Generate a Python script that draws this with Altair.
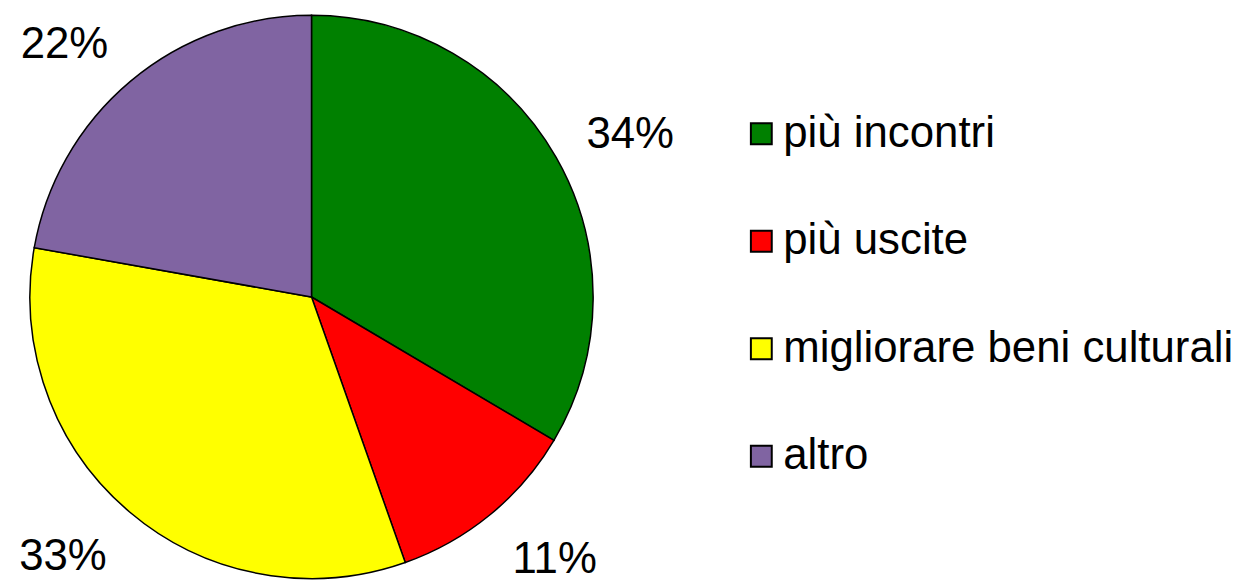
import math
import altair as alt
import pandas as pd

categories = ["più incontri", "più uscite", "migliorare beni culturali", "altro"]
values = [33.5, 11.1, 33.2, 22.2]
labels = ["34%", "11%", "33%", "22%"]
colors = ["#008000", "#FF0000", "#FFFF00", "#8064A2"]

df = pd.DataFrame({
    "category": categories,
    "value": values,
    "label": labels,
    "idx": list(range(len(categories))),
})

FONT = "Liberation Sans"
CX, CY = 305, 289

base = alt.Chart(df)

pie = base.mark_arc(radius=283, stroke="black", strokeWidth=1.5).encode(
    theta=alt.Theta("value:Q", stack=True),
    color=alt.Color(
        "category:N",
        scale=alt.Scale(domain=categories, range=colors),
        sort=categories,
        legend=alt.Legend(
            title=None,
            orient="none",
            legendX=735,
            legendY=103,
            symbolType="square",
            symbolSize=440,
            symbolStrokeColor="black",
            symbolStrokeWidth=2,
            symbolOpacity=1,
            labelFont=FONT,
            labelFontSize=44,
            labelColor="black",
            labelLimit=700,
            labelOffset=0,
            rowPadding=64,
        ),
    ),
    order=alt.Order("idx:Q"),
    x=alt.value(CX),
    y=alt.value(CY),
)

lab = base.transform_joinaggregate(total="sum(value)").transform_window(
    cum="sum(value)", sort=[alt.SortField("idx")]
).transform_calculate(mid="(datum.cum - datum.value / 2) / datum.total")

theta_lab = alt.Theta("mid:Q", stack=None, scale=alt.Scale(domain=[0, 1], range=[0, 2 * math.pi]))


def label_layer(cond, align, baseline, dy):
    return lab.transform_filter(cond).mark_text(
        radius=318, align=align, baseline=baseline, dy=dy,
        font=FONT, fontSize=44, color="black"
    ).encode(theta=theta_lab, text="label:N", x=alt.value(CX), y=alt.value(CY))


layers = [
    label_layer("datum.mid < 0.25", "left", "middle", -5),
    label_layer("datum.mid >= 0.25 && datum.mid < 0.5", "left", "top", -3),
    label_layer("datum.mid >= 0.5 && datum.mid < 0.75", "right", "top", -3),
    label_layer("datum.mid >= 0.75", "right", "middle", -9),
]

chart = alt.layer(pie, *layers).resolve_scale(theta="independent").properties(
    width=1235, height=573, padding=0, autosize=alt.AutoSizeParams(type="none")
).configure_view(stroke=None)

chart.save("out.html", embed_options={"renderer": "svg", "actions": False})
